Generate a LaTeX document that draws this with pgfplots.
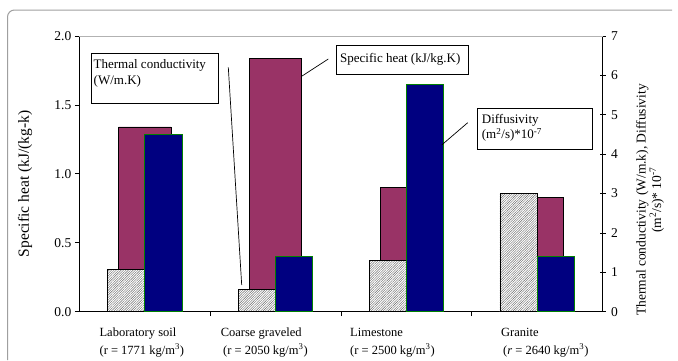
\documentclass[border=0pt]{standalone}
\usepackage{fontspec}
\setmainfont{Liberation Serif}
\usepackage{pgfplots}
\pgfplotsset{compat=1.18}
\usetikzlibrary{patterns.meta}
\definecolor{plum}{RGB}{153,51,102}
\definecolor{navyb}{RGB}{0,0,128}
\definecolor{grn}{RGB}{0,128,0}
\begin{document}
\begin{tikzpicture}[x=1pt,y=1pt]
\useasboundingbox (0,0) rectangle (678,360);
% outer frame
\draw[gray!75, line width=1pt, rounded corners=7pt] (7.5,0) -- (7.5,350) -- (672,350);
% left axis: specific heat
\begin{axis}[
  at={(79.3pt,48.3pt)}, anchor=south west,
  scale only axis, width=523.4pt, height=275.7pt,
  xmin=-0.5, xmax=3.5, ymin=0, ymax=2,
  axis x line*=bottom, axis y line*=left,
  axis line style={-, black, line width=0.8pt},
  xtick={0.5,1.5,2.5}, xticklabels={},
  ytick={0,0.5,1,1.5,2},
  /pgf/number format/fixed, /pgf/number format/fixed zerofill,
  /pgf/number format/precision=1, /pgf/number format/assume math mode=true,
  tick align=outside, major tick length=4.5pt,
  tick style={black, line width=0.8pt},
  ticklabel style={font=\fontsize{13.5}{15}\selectfont},
  ybar, bar width=52.4pt,
]
\addplot[fill=plum, draw=black, line width=0.6pt, bar shift=0pt]
  coordinates {(0,1.34) (1,1.84) (2,0.90) (3,0.83)};
\end{axis}
% right axis: conductivity and diffusivity
\begin{axis}[
  at={(79.3pt,48.3pt)}, anchor=south west,
  scale only axis, width=523.4pt, height=275.7pt,
  xmin=-0.5, xmax=3.5, ymin=0, ymax=7,
  axis x line=none, axis y line*=right,
  axis line style={-, black, line width=0.8pt},
  ytick={0,1,2,3,4,5,6,7},
  /pgf/number format/assume math mode=true,
  tick align=center, major tick length=6pt,
  tick style={black, line width=0.8pt},
  ticklabel style={font=\fontsize{13.5}{15}\selectfont},
  yticklabel style={xshift=2pt},
  ybar, bar width=37.3pt,
]
\addplot[bar shift=-18.65pt, draw=black, line width=0.6pt,
  preaction={fill=white},
  pattern={Lines[angle=45,distance=1.7pt,line width=0.4pt]}, pattern color=gray!80!black]
  coordinates {(0,1.08) (1,0.57) (2,1.31) (3,3.01)};
\addplot[bar shift=18.65pt, fill=navyb, draw=grn, line width=0.8pt]
  coordinates {(0,4.50) (1,1.41) (2,5.77) (3,1.41)};
\end{axis}
% top border of plot area
\draw[gray!60, line width=0.8pt] (79.3,324) -- (602.7,324);
% axis titles
\node[rotate=90, font=\fontsize{15.5}{17}\selectfont] at (25,176) {Specific heat (kJ/(kg-k)};
\node[rotate=90, align=center, font=\fontsize{13.5}{12.5}\selectfont] at (650,160)
  {Thermal conductivity (W/m.k), Diffusivity\\(m\textsuperscript{2}/s)* 10\textsuperscript{-7}};
% category labels
\begin{scope}[every node/.style={font=\fontsize{12.5}{14}\selectfont, anchor=base west, inner sep=0pt}]
\node at (99.4,24) {Laboratory soil};
\node at (99.4,6) {(r = 1771 kg/m\textsuperscript{3})};
\node at (220.6,24) {Coarse graveled};
\node at (223,6) {(r = 2050 kg/m\textsuperscript{3})};
\node at (350,24) {Limestone};
\node at (350,6) {(r = 2500 kg/m\textsuperscript{3})};
\node at (501,24) {Granite};
\node at (503,6) {(\textit{r} = 2640 kg/m\textsuperscript{3})};
\end{scope}
% callouts
\draw[black, line width=0.7pt] (228.3,292.7) -- (241.7,75);
\draw[black, line width=0.7pt] (328.3,301) -- (301,283.3);
\draw[black, line width=0.7pt] (467.7,237.3) -- (441.7,215);
\draw[black, line width=0.8pt, fill=white] (91,256.7) rectangle (218.3,306.7);
\draw[black, line width=0.8pt, fill=white] (336,285.7) rectangle (468.3,314.3);
\draw[black, line width=0.8pt, fill=white] (477.3,211) rectangle (592.3,251.7);
\begin{scope}[every node/.style={font=\fontsize{13}{15}\selectfont, anchor=base west, inner sep=0pt}]
\node at (93.5,291.5) {Thermal conductivity};
\node at (93.5,276) {(W/m.K)};
\node at (340,297.5) {Specific heat (kJ/kg.K)};
\node at (481.7,236.5) {Diffusivity};
\node at (481.7,221.5) {(m\textsuperscript{2}/s)*10\textsuperscript{-7}};
\end{scope}
\end{tikzpicture}
\end{document}
